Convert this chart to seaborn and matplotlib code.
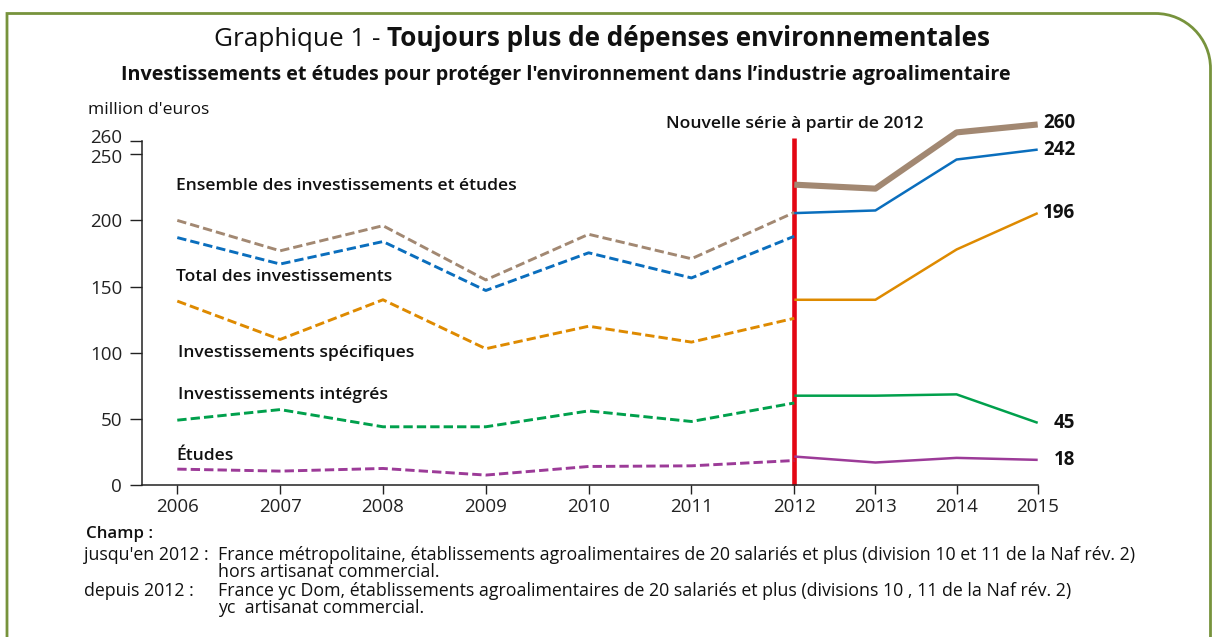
import numpy as np
import pandas as pd
import matplotlib
matplotlib.use("Agg")
import matplotlib.pyplot as plt
import matplotlib.transforms as mtransforms
import seaborn as sns
from matplotlib.path import Path
from matplotlib.patches import PathPatch

# ---------------- data ----------------
years_old = [2006, 2007, 2008, 2009, 2010, 2011, 2012]
years_new = [2012, 2013, 2014, 2015]

ensemble_old = [200, 177, 196, 155, 189.5, 171, 206]
ensemble_new = [227, 224, 266.5, 272.5]
total_old = [187, 167, 184, 147, 175.5, 156.5, 188]
total_new = [205.5, 207.5, 246, 253.5]
specifiques_old = [139, 110, 140, 103, 120, 108, 126]
specifiques_new = [140, 140, 178, 205.5]
integres_old = [49, 57, 44, 44, 56, 48, 62]
integres_new = [67.5, 67.5, 68.5, 47]
etudes_old = [12, 10.5, 12.5, 7.5, 14, 14.5, 18.5]
etudes_new = [21.5, 17, 20.5, 19]

series_names = ["Ensemble des investissements et études",
                "Total des investissements",
                "Investissements spécifiques",
                "Investissements intégrés",
                "Études"]
end_labels = ["260", "242", "196", "45", "18"]
tick_years = [2006, 2007, 2008, 2009, 2010, 2011, 2012, 2013, 2014, 2015]
y_ticks = [0, 50, 100, 150, 200, 250, 260]

title_plain = "Graphique 1 - "
title_bold = "Toujours plus de dépenses environnementales"
subtitle = "Investissements et études pour protéger l'environnement dans l’industrie agroalimentaire"
unit_label = "million d'euros"
break_label = "Nouvelle série à partir de 2012"
notes_head = "Champ :"
notes_rows = [("jusqu'en 2012 :", "France métropolitaine, établissements agroalimentaires de 20 salariés et plus (division 10 et 11 de la Naf rév. 2)"),
              ("", "hors artisanat commercial."),
              ("depuis 2012 :", "France yc Dom, établissements agroalimentaires de 20 salariés et plus (divisions 10 , 11 de la Naf rév. 2)"),
              ("", "yc  artisanat commercial.")]

# ---------------- styles ----------------
colors = ["#A28872", "#0A6EBD", "#DE8A00", "#00A04C", "#9C3B98"]
new_widths = [4.4, 1.8, 1.8, 1.8, 1.8]
old_width = 2.1

W, H = 1214, 637
DPI = 100

sns.set_style("ticks")
plt.rcParams["font.family"] = ["Open Sans", "DejaVu Sans"]


def xpos(years):
    y = np.asarray(years, dtype=float)
    return np.where(y <= 2012, y - 2006, 6 + (y - 2012) * 0.789)


rows = []
olds = [ensemble_old, total_old, specifiques_old, integres_old, etudes_old]
news = [ensemble_new, total_new, specifiques_new, integres_new, etudes_new]
for name, o, n in zip(series_names, olds, news):
    for yr, v in zip(years_old, o):
        rows.append(dict(series=name, period="old", year=yr, value=v))
    for yr, v in zip(years_new, n):
        rows.append(dict(series=name, period="new", year=yr, value=v))
df = pd.DataFrame(rows)
df["x"] = xpos(df["year"])

fig = plt.figure(figsize=(W / DPI, H / DPI), dpi=DPI)
fig.patch.set_facecolor("white")

ax_left = 141.6 / W
ax_right = 1037.7 / W
ax_bottom = 1 - 485 / H
ax_top = 1 - 141 / H
ax = fig.add_axes([ax_left, ax_bottom, ax_right - ax_left, ax_top - ax_bottom])
ax.set_facecolor("white")

# red break line (drawn under lines)
ax.axvline(xpos(2012), ymin=0, ymax=262 / 260, color="#E30613", lw=3.3,
           clip_on=False, zorder=2, solid_capstyle="butt")

for i, name in enumerate(series_names):
    d_old = df[(df.series == name) & (df.period == "old")]
    d_new = df[(df.series == name) & (df.period == "new")]
    sns.lineplot(data=d_old, x="x", y="value", ax=ax, color=colors[i],
                 lw=old_width, linestyle=(0, (3.2, 1.4)), clip_on=False,
                 zorder=3, sort=False, estimator=None)
    sns.lineplot(data=d_new, x="x", y="value", ax=ax, color=colors[i],
                 lw=new_widths[i], clip_on=False, zorder=4, sort=False,
                 estimator=None, solid_capstyle="butt")
    ax.annotate(end_labels[i], xy=(xpos(2015), news[i][-1]),
                xytext=(27, 1 if i == 0 else 0), textcoords="offset points",
                ha="right", va="center", fontsize=13.5, fontweight="bold",
                color="#111111", annotation_clip=False)

ax.set_xlim(-0.347, float(xpos(2015)))
ax.set_ylim(0, 260)
ax.set_xticks(xpos(tick_years))
ax.set_xticklabels([str(y) for y in tick_years])
ax.set_yticks(y_ticks)
ax.set_yticklabels([str(t) for t in y_ticks])
ax.tick_params(axis="y", length=9, width=1.0, pad=5, labelsize=13.5,
               colors="#222222", direction="out")
ax.tick_params(axis="x", length=6.5, width=1.0, pad=3, labelsize=13.5,
               colors="#222222", direction="out")
# nudge the "260" label up as in the original so it clears "250"
lab260 = ax.get_yticklabels()[-1]
lab260.set_transform(lab260.get_transform() +
                     mtransforms.ScaledTranslation(0, 5 / DPI, fig.dpi_scale_trans))
lab250 = ax.get_yticklabels()[-2]
lab250.set_transform(lab250.get_transform() +
                     mtransforms.ScaledTranslation(0, -1.5 / DPI, fig.dpi_scale_trans))
for s in ["top", "right"]:
    ax.spines[s].set_visible(False)
for s in ["left", "bottom"]:
    ax.spines[s].set_color("#222222")
    ax.spines[s].set_linewidth(1.1)
ax.set_xlabel("")
ax.set_ylabel("")
ax.grid(False)

# series labels
label_pos = [(-0.013, 226), (-0.013, 157), (0.007, 99.8), (0.007, 68), (-0.013, 22)]
for name, (lx, ly) in zip(series_names, label_pos):
    ax.text(lx, ly, name, ha="left", va="center", fontsize=12.6,
            fontweight="semibold", color="#111111")

ax.text(xpos(2012), 272.5, break_label, ha="center", va="center",
        fontsize=12.6, fontweight="semibold", color="#111111", clip_on=False)


def fx(px):
    return px / W


def fy(py):
    return 1 - py / H


# titles
t1 = fig.text(fx(214), fy(39), title_plain, ha="left", va="center",
              fontsize=18.8, color="#111111")
fig.canvas.draw()
bb = t1.get_window_extent()
fig.text(bb.x1 / W, fy(39), title_bold, ha="left", va="center",
         fontsize=18.8, fontweight="bold", color="#111111")
fig.text(fx(565.5), fy(75), subtitle, ha="center", va="center",
         fontsize=14.2, fontweight="bold", color="#111111")
fig.text(fx(88), fy(110), unit_label, ha="left", va="center",
         fontsize=12.6, color="#111111")

# notes
fig.text(fx(86), fy(534), notes_head, ha="left", va="center",
         fontsize=12.2, fontweight="semibold", color="#111111")
note_y = [555, 572, 591, 608]
for (lab, txt), py in zip(notes_rows, note_y):
    if lab:
        fig.text(fx(84), fy(py), lab, ha="left", va="center",
                 fontsize=12.8, color="#111111")
    fig.text(fx(218), fy(py), txt, ha="left", va="center",
             fontsize=12.8, color="#111111")

# green frame with rounded top-right corner
R = 55.0
k = 0.5523 * R
x0, y0, x1, yb = 7.0, 13.5, 1210.5, 660.0
verts = [(x0, yb), (x0, y0), (x1 - R, y0),
         (x1 - R + k, y0), (x1, y0 + R - k), (x1, y0 + R),
         (x1, yb)]
codes = [Path.MOVETO, Path.LINETO, Path.LINETO,
         Path.CURVE4, Path.CURVE4, Path.CURVE4, Path.LINETO]
verts_fig = [(fx(a), fy(b)) for a, b in verts]
frame = PathPatch(Path(verts_fig, codes), transform=fig.transFigure,
                  fill=False, edgecolor="#77933C", lw=2.0, clip_on=False)
fig.add_artist(frame)

fig.savefig("out.png", dpi=DPI, facecolor="white")
